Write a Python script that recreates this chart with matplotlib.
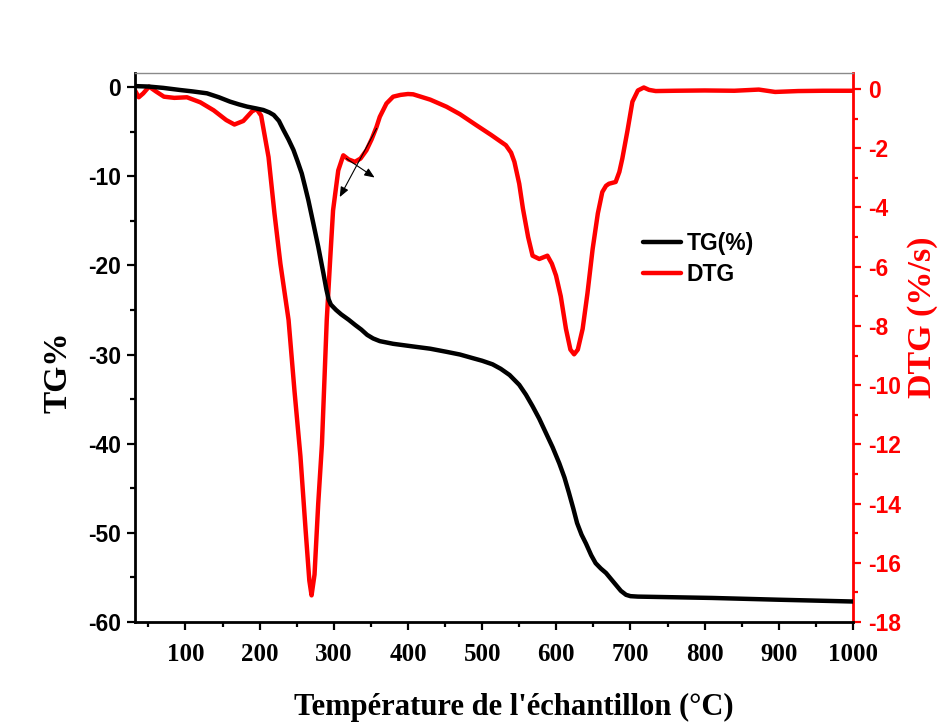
import matplotlib
matplotlib.use("Agg")
import matplotlib.pyplot as plt
from matplotlib.ticker import MultipleLocator

plt.rcParams["axes.unicode_minus"] = False

# Thermogravimetric curve: temperature (°C) vs mass loss TG (%)
tg_temp = [32, 50, 70, 93, 110, 129, 145, 160, 172, 183, 195, 205, 213, 219,
           226, 232, 239, 245.6, 251, 256.8, 261, 265.7, 272.4, 279, 286, 290,
           293, 296, 303, 310, 320, 329, 337, 345, 353, 362, 380, 407, 430,
           452, 470, 487, 500, 514, 525, 537, 550, 559, 568, 577, 586, 595,
           604, 611, 617, 623, 628, 634, 640, 647, 653, 660, 667, 674, 680,
           687, 694, 700, 710, 810, 900, 1000]
tg_val = [0.1, 0.05, -0.1, -0.34, -0.5, -0.71, -1.15, -1.64, -1.95, -2.2,
          -2.4, -2.58, -2.85, -3.14, -3.8, -4.8, -5.9, -7.06, -8.3, -9.7,
          -11.1, -12.7, -15.3, -17.9, -20.9, -22.7, -23.8, -24.4, -25.0,
          -25.5, -26.1, -26.7, -27.2, -27.8, -28.2, -28.5, -28.8, -29.1,
          -29.35, -29.7, -30.0, -30.4, -30.7, -31.1, -31.6, -32.3, -33.4,
          -34.5, -35.8, -37.2, -38.8, -40.4, -42.2, -43.8, -45.5, -47.3,
          -48.9, -50.2, -51.2, -52.5, -53.4, -54.0, -54.5, -55.2, -55.8,
          -56.5, -56.95, -57.1, -57.15, -57.3, -57.5, -57.7]

# Derivative curve: temperature (°C) vs DTG (%/s)
dtg_temp = [32, 37, 43, 51, 60, 71, 85, 102, 120, 138, 155, 166, 178, 190,
            196, 202, 212, 220, 228, 239, 247, 255, 262, 267, 270, 274, 279,
            284, 290.5, 295, 299, 306, 312.8, 320, 328.5, 336, 344, 351,
            357.6, 362, 371, 380, 390, 400, 407, 430, 452, 470, 492, 512,
            532, 539, 543.5, 550, 555, 562, 568, 577, 588, 594, 599.6, 606,
            613, 619, 624, 629, 635.5, 642, 649, 656, 662, 667, 671, 680, 685,
            689, 696, 702.6, 710, 718, 725, 734, 760, 800, 840, 873, 895, 926,
            960, 1000]
dtg_val = [-0.05, -0.28, -0.15, 0.08, -0.08, -0.26, -0.3, -0.28, -0.45,
           -0.72, -1.05, -1.2, -1.08, -0.75, -0.68, -0.9, -2.3, -4.2, -5.9,
           -7.8, -10.2, -12.4, -14.9, -16.6, -17.1, -16.4, -14.0, -12.0, -7.8,
           -5.8, -4.1, -2.75, -2.24, -2.38, -2.46, -2.35, -2.07, -1.7, -1.28,
           -0.94, -0.49, -0.26, -0.2, -0.17, -0.18, -0.36, -0.6, -0.85, -1.22,
           -1.55, -1.9, -2.15, -2.46, -3.2, -4.04, -5.0, -5.63, -5.74, -5.63,
           -5.9, -6.3, -7.0, -8.1, -8.8, -8.96, -8.8, -8.1, -6.9, -5.4, -4.2,
           -3.48, -3.27, -3.2, -3.14, -2.8, -2.35, -1.4, -0.43, -0.05, 0.05,
           -0.03, -0.07, -0.06, -0.05, -0.06, -0.02, -0.1, -0.07, -0.06,
           -0.06]

x_ticks = [100, 200, 300, 400, 500, 600, 700, 800, 900, 1000]
tg_ticks = [-60, -50, -40, -30, -20, -10, 0]
dtg_ticks = [-18, -16, -14, -12, -10, -8, -6, -4, -2, 0]

SANS = ["Liberation Sans", "DejaVu Sans"]
SERIF = ["Liberation Serif", "DejaVu Serif"]
RED = "#ff0000"

fig = plt.figure(figsize=(9.39, 7.27), dpi=100)
ax = fig.add_axes([0.1438, 0.1444, 0.7646, 0.7552])
ax2 = ax.twinx()

ln_tg, = ax.plot(tg_temp, tg_val, color="black", lw=3.2,
                 solid_joinstyle="round", solid_capstyle="round", label="TG(%)")
ln_dtg, = ax2.plot(dtg_temp, dtg_val, color=RED, lw=3.2,
                   solid_joinstyle="round", solid_capstyle="round", label="DTG")

ax.set_xlim(32, 1000)
ax.set_ylim(-60, 1.57)
ax2.set_ylim(-18, 0.54)

ax.set_xticks(x_ticks)
ax.xaxis.set_minor_locator(MultipleLocator(50))
ax.set_yticks(tg_ticks)
ax.yaxis.set_minor_locator(MultipleLocator(5))
ax2.set_yticks(dtg_ticks)
ax2.yaxis.set_minor_locator(MultipleLocator(1))

# spines
for s in ("left", "bottom"):
    ax.spines[s].set_linewidth(2)
    ax.spines[s].set_color("black")
ax.spines["top"].set_linewidth(1)
ax.spines["top"].set_color("#8a8a8a")
ax2.spines["top"].set_visible(False)
ax2.spines["left"].set_visible(False)
ax2.spines["bottom"].set_visible(False)
ax2.spines["right"].set_linewidth(2)
ax2.spines["right"].set_color(RED)
ax.spines["right"].set_visible(False)

ax.tick_params(axis="x", which="major", direction="out", length=6, width=1.6,
               pad=9, top=False)
ax.tick_params(axis="x", which="minor", direction="out", length=3.5, width=1.6,
               top=False)
ax.tick_params(axis="y", which="major", direction="out", length=6, width=1.6,
               pad=4, right=False)
ax.tick_params(axis="y", which="minor", direction="out", length=3.5, width=1.6,
               right=False)
ax2.tick_params(axis="y", which="major", direction="out", length=6, width=1.6,
                pad=5, colors=RED)
ax2.tick_params(axis="y", which="minor", direction="out", length=3.5,
                width=1.6, colors=RED)

for lab in ax.get_xticklabels():
    lab.set_fontfamily(SERIF)
    lab.set_fontweight("bold")
    lab.set_fontsize(18)
for lab in ax.get_yticklabels():
    lab.set_fontfamily(SANS)
    lab.set_fontweight("bold")
    lab.set_fontsize(16.5)
for lab in ax2.get_yticklabels():
    lab.set_fontfamily(SANS)
    lab.set_fontweight("bold")
    lab.set_fontsize(16.5)
    lab.set_color(RED)

# axis titles
fig.text(514 / 939, 1 - 715 / 727, "Température de l'échantillon (°C)",
         ha="center", va="baseline", fontfamily=SERIF, fontweight="bold",
         fontsize=22, color="black")
fig.text(58 / 939, 1 - 372 / 727, "TG%", rotation=90, ha="center",
         va="center", fontfamily=SERIF, fontweight="bold", fontsize=24,
         color="black")
fig.text(922 / 939, 1 - 317 / 727, "DTG (%/s)", rotation=90, ha="center",
         va="center", fontfamily=SERIF, fontweight="bold", fontsize=24.5,
         color=RED)

# arrows pointing from the DTG shoulder to the relevant axis
arrow_kw = dict(arrowstyle="-|>,head_length=0.6,head_width=0.25",
                color="black", lw=0.8, shrinkA=0, shrinkB=0)
ax2.annotate("", xy=(308, -3.65), xytext=(357.7, -1.33), arrowprops=arrow_kw)
ax2.annotate("", xy=(355, -2.99), xytext=(317, -2.35), arrowprops=arrow_kw)

leg = ax.legend(handles=[ln_tg, ln_dtg], loc="upper left",
                bbox_to_anchor=(0.7075, 0.71), frameon=False, borderpad=0,
                borderaxespad=0, handlelength=1.67, handletextpad=0.25,
                labelspacing=0.35, prop=dict(family=SANS, weight="bold",
                                             size=16.5))
ax2.set_zorder(1)
ax.set_zorder(2)
ax.patch.set_visible(False)

fig.savefig("out.png", dpi=100, facecolor="white")
